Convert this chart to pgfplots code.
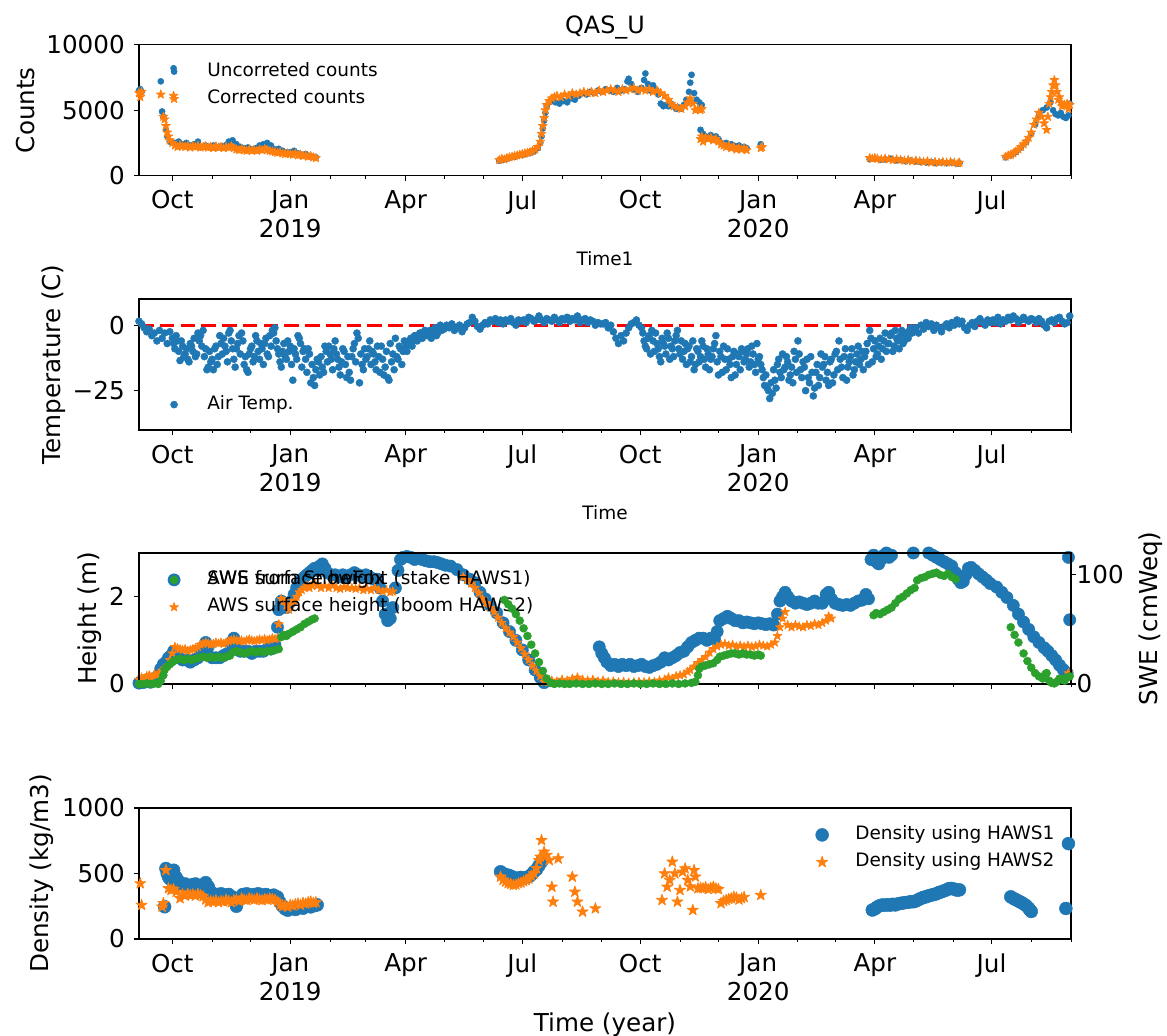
\documentclass[border=0pt]{standalone}
\usepackage{fontspec}
\setmainfont{DejaVu Sans}
\usepackage{pgfplots}
\pgfplotsset{compat=1.18}
\definecolor{tblue}{HTML}{1F77B4}
\definecolor{torange}{HTML}{FF7F0E}
\definecolor{tgreen}{HTML}{2CA02C}
\pgfdeclareplotmark{fstar}{%
  \pgfpathmoveto{\pgfqpointpolar{90}{\pgfplotmarksize}}%
  \pgfpathlineto{\pgfqpointpolar{126}{0.382\pgfplotmarksize}}%
  \pgfpathlineto{\pgfqpointpolar{162}{\pgfplotmarksize}}%
  \pgfpathlineto{\pgfqpointpolar{198}{0.382\pgfplotmarksize}}%
  \pgfpathlineto{\pgfqpointpolar{234}{\pgfplotmarksize}}%
  \pgfpathlineto{\pgfqpointpolar{270}{0.382\pgfplotmarksize}}%
  \pgfpathlineto{\pgfqpointpolar{306}{\pgfplotmarksize}}%
  \pgfpathlineto{\pgfqpointpolar{342}{0.382\pgfplotmarksize}}%
  \pgfpathlineto{\pgfqpointpolar{18}{\pgfplotmarksize}}%
  \pgfpathlineto{\pgfqpointpolar{54}{0.382\pgfplotmarksize}}%
  \pgfpathclose
  \pgfusepathqfillstroke
}
\pgfplotsset{
  mylegimg/.style={legend image code/.code={\path[draw=none,fill=none] (0pt,-1pt) rectangle (24pt,1pt); \draw[##1, only marks] plot coordinates {(12pt,0pt)};}},
  mpl/.style={
    scale only axis, width=605.8pt, height=85.15pt, anchor=south west,
    xmin=4, xmax=731, clip=true, scaled y ticks=false,
    xtick={30,122,212,303,395,487,578,669},
    minor xtick={61,91,153,181,242,273,334,365,426,456,518,547,608,639,700,731},
    xticklabels={Oct,{Jan\\2019},Apr,Jul,Oct,{Jan\\2020},Apr,Jul},
    tick align=outside, xtick pos=bottom, ytick pos=left,
    major tick length=3.5pt, minor tick length=2pt,
    tick style={black, line width=0.8pt},
    minor tick style={black, line width=0.6pt},
    axis line style={line width=0.8pt},
    xticklabel style={font=\fontsize{16}{19}\selectfont, align=center, anchor=north, inner sep=0pt, yshift=-5.9pt},
    yticklabel style={font=\fontsize{16}{19}\selectfont, anchor=east, inner sep=0pt, xshift=-5.6pt},
    every axis y label/.style={font=\fontsize{16}{19}\selectfont, rotate=90, anchor=base},
    every axis x label/.style={at={(axis description cs:0.5,0)}, anchor=base},
    every axis title/.style={at={(axis description cs:0.5,1)}, anchor=base, yshift=7.4pt, font=\fontsize{15.5}{18}\selectfont},
    legend cell align=left,
    legend style={draw=none, fill=none, inner sep=0pt, outer sep=0pt,
      font=\fontsize{12}{14}\selectfont, row sep=5.7pt, column sep=9.6pt,
      nodes={inner sep=0pt, text height=9.1pt, text depth=2.9pt}},
  },
  bdot/.style={only marks, mark=*, draw=tblue, fill=tblue, mark options={line width=0.3pt}, mylegimg},
  ostar/.style={only marks, mark=fstar, draw=torange, fill=torange, mark options={line width=0.5pt, line join=round}, mylegimg},
  gdot/.style={only marks, mark=*, draw=tgreen, fill=tgreen, mark options={line width=0.3pt}, mylegimg},
}
\begin{document}
\begin{tikzpicture}
\useasboundingbox (0pt,0pt) rectangle (758.55pt,673.4pt);
% ---------------- Panel 1 ----------------
\begin{axis}[mpl, at={(90.35pt,559.2pt)},
  ymin=0, ymax=10000, ytick={0,5000,10000}, yticklabels={0,5000,10000},
  ylabel={Counts}, ylabel style={at={(axis description cs:-0.1122,0.5)}},
  xlabel={Time1}, xlabel style={font=\fontsize{12}{14}\selectfont, yshift=-58.3pt},
  title={QAS\_U},
  legend style={at={(axis description cs:0,1)}, anchor=north west, xshift=10.8pt, yshift=-11.5pt}]
\addplot[bdot, mark size=2pt] coordinates {
(4,6500)(5,6600)(6,6400)(21,7200)(22,4900)(23,4500)(25,3500)(26,3000)(28,2600)(31,8200)
(32,2500)(35,2600)(38,2400)(41,2500)(44,2300)(47,2400)(50,2600)(53,2200)(56,2300)(59,2200)(62,2300)(65,2150)(68,2250)(71,2300)(74,2600)(77,2700)(80,2400)(83,2200)(86,2100)(89,2150)(92,2000)(95,2100)(98,2300)(101,2400)(104,2500)(107,2300)(110,2000)(113,2050)(116,1900)(119,1750)(122,1800)(125,1900)(128,1700)(131,1600)(134,1650)(137,1500)(140,1450)(142,1400)
(285,1150)(288,1200)(291,1300)(294,1400)(297,1450)(300,1550)(303,1600)(306,1650)(309,1750)(312,1850)(315,2100)(317,2500)(318,3000)(319,3600)(320,4200)(321,4800)(322,5300)(324,5600)(326,5700)(329,5600)(332,5500)(335,5700)(338,5600)(341,5900)(344,5800)(347,6100)(350,6300)(353,6200)(356,6400)(359,6300)(362,6500)(365,6400)(368,6600)(371,6500)(374,6400)(377,6700)(380,6500)(383,6600)(385,7200)(386,7400)(388,7000)(390,6600)(393,6400)(396,6700)(398,7300)(399,7800)(401,7000)(403,6500)(405,6900)(407,6600)(409,6200)(411,5500)(413,5300)(415,5400)(417,5300)(419,5500)(421,5300)(423,5100)(425,5200)(427,5100)(429,5400)(431,5800)(433,6400)(434,7100)(435,7700)(437,6300)(439,5800)(441,5600)(443,5400)
(442,3500)(444,3200)(446,3000)(448,2900)(450,3100)(452,2900)(454,3000)(456,2800)(458,2500)(460,2400)(462,2500)(464,2300)(466,2400)(468,2300)(470,2200)(472,2300)(474,2100)(476,2200)(478,2100)(489,2400)
(574,1250)(578,1300)(582,1200)(586,1250)(590,1300)(594,1150)(598,1200)(602,1100)(606,1150)(610,1100)(614,1050)(618,1000)(622,1050)(626,950)(630,1000)(634,950)(638,1000)(642,900)(644,950)
(680,1400)(684,1550)(688,1800)(692,2150)(696,2550)(700,3200)(703,3900)(706,4600)(709,5000)(712,5200)(715,5600)(717,5000)(719,4700)(721,4600)(723,4800)(725,4500)(727,4400)(729,4600)(730,5500)
};
\addlegendentry{Uncorreted counts}
\addplot[ostar, mark size=3pt] coordinates {
(4,6300)(5,6000)(6,6400)(21,6200)(23,4500)(24,4300)(25,3800)(26,3300)(27,3000)(28,2700)(30,2500)(31,6100)
(32,2300)(34,2200)(36,2350)(38,2250)(40,2200)(42,2300)(44,2150)(46,2250)(48,2200)(50,2300)(52,2150)(54,2200)(56,2250)(58,2150)(60,2200)(62,2100)(64,2250)(66,2150)(68,2200)(70,2100)(72,2200)(74,2150)(76,2250)(78,2100)(80,2000)(82,1950)(84,2050)(86,1950)(88,1900)(90,2000)(92,1900)(94,1950)(96,1900)(98,2000)(100,1950)(102,2050)(104,1950)(106,1900)(108,1850)(110,1800)(112,1750)(114,1800)(116,1700)(118,1650)(120,1700)(122,1650)(124,1600)(126,1700)(128,1550)(130,1600)(132,1500)(134,1550)(136,1450)(138,1500)(140,1400)(142,1350)
(285,1200)(287,1300)(289,1250)(291,1350)(293,1400)(295,1450)(297,1500)(299,1550)(301,1600)(303,1650)(305,1700)(307,1750)(309,1800)(311,1900)(313,2000)(315,2200)(317,2600)(318,3200)(319,3800)(320,4400)(321,5000)(322,5400)(324,5700)(326,5900)(328,6000)(330,6100)(333,6000)(336,6200)(339,6100)(342,6300)(345,6200)(348,6300)(351,6400)(354,6300)(357,6400)(360,6300)(363,6500)(366,6400)(369,6500)(372,6600)(375,6500)(378,6400)(381,6600)(384,6500)(387,6600)(390,6700)(393,6500)(396,6600)(399,6500)(402,6600)(405,6400)(408,6500)(411,6300)(414,6100)(417,5800)(419,5500)(421,5300)(424,5200)(427,5100)(430,5300)(432,5600)(434,5900)(436,5500)(438,5000)(440,5100)(442,5000)(443,5100)
(442,2800)(443,3000)(444,2600)(446,2900)(448,2800)(450,2900)(452,2700)(454,2800)(456,2600)(458,2400)(460,2300)(462,2200)(464,2300)(466,2100)(468,2200)(470,2000)(472,2100)(474,2000)(476,2100)(478,1950)(489,2100)(490,2200)
(574,1350)(576,1300)(578,1350)(580,1300)(583,1250)(586,1300)(589,1250)(592,1200)(595,1250)(598,1200)(601,1150)(604,1200)(607,1100)(610,1150)(613,1100)(616,1050)(619,1100)(622,1000)(625,1050)(628,1000)(631,1050)(634,1000)(637,1050)(640,1000)(643,950)(644,1000)
(680,1450)(682,1550)(684,1600)(686,1700)(688,1850)(690,2000)(692,2200)(694,2400)(696,2600)(698,2900)(700,3300)(702,3900)(704,4300)(706,4800)(708,4500)(710,4000)(712,3500)(713,4500)(714,5500)(715,6000)(716,6400)(717,6900)(718,7300)(719,6900)(720,6400)(721,5800)(722,6000)(723,5600)(724,5300)(726,5400)(728,5500)(729,5100)(730,5400)
};
\addlegendentry{Corrected counts}
\end{axis}
% ---------------- Panel 2 ----------------
\begin{axis}[mpl, at={(90.35pt,393.9pt)},
  ymin=-40, ymax=10, ytick={-25,0}, yticklabels={−25,0},
  ylabel={Temperature (C)}, ylabel style={at={(axis description cs:-0.0837,0.5)}},
  xlabel={Time}, xlabel style={font=\fontsize{12}{14}\selectfont, yshift=-58.5pt},
  legend style={at={(axis description cs:0,0)}, anchor=south west, xshift=10.8pt, yshift=10.5pt}]
\addplot[bdot, mark size=2.3pt] coordinates {
(4,1.5)(6,0.5)(8,-1)(10,-2.5)(12,-1.5)(14,-4)(16,-3)(18,-6)(20,-2)(22,-5)(24,-3)(26,-7)(28,-2.5)
(30,-5)(32,-9)(34,-6)(36,-13.5)(38,-8)(40,-11)(42,-13)(44,-7)(46,-10)(48,-12)(50,-3)(52,-4)(54,-2)(56,-9)(58,-16)(60,-14)
(62,-17)(64,-8)(66,-12)(68,-7)(70,-5)(72,-10)(74,-3)(76,-6)(78,-13)(80,-9)(82,-4)(84,-3)(86,-15)(88,-17)(90,-11)
(92,-8)(94,-12)(96,-6)(98,-13)(100,-9)(102,-7)(104,-11)(106,-4)(108,-2)(110,-1)(112,-9)(114,-14)(116,-10)(118,-12)(120,-6)
(122,-8)(124,-21)(126,-11)(128,-4)(130,-7)(132,-10)(134,-13)(136,-9)(138,-22)(140,-20)(142,-17)(144,-14)(146,-12)(148,-18)(150,-10)(152,-8)
(154,-13)(156,-9)(158,-11)(160,-16)(162,-14)(164,-10)(166,-20)(168,-18)(170,-12)(172,-7)(174,-3)(176,-22)(178,-15)(180,-9)
(182,-12)(184,-6)(186,-10)(188,-14)(190,-8)(192,-18)(194,-13)(196,-16)(198,-20)(200,-7)(202,-11)(204,-5)(206,-13)(208,-9)(210,-10)
(212,-8)(214,-7)(216,-5)(218,-6)(220,-4)(222,-5)(224,-3)(226,-4)(228,-2.5)(230,-3)(232,-5)(234,-2)(236,-4)(238,-1)(240,-2)
(242,-1.5)(244,0)(246,-1)(248,0.5)(250,-2)(252,-1)(254,0)(256,-2.5)(258,-1)(260,0.5)(262,1)(264,3)(266,1.5)(268,-0.5)(270,-1.5)(272,0)
(274,1)(276,0.5)(278,2)(280,1.5)(282,2.5)(284,1)(286,2)(288,0.5)(290,2)(292,1.5)(294,2.5)(296,1)(298,0)(300,2)(302,1.5)
(304,2)(306,1)(308,3)(310,2.5)(312,1.5)(314,2)(316,3.5)(318,2)(320,1)(322,2.5)(324,2)(326,1.5)(328,3)(330,2)(332,1)(334,2.5)
(336,2)(338,3)(340,1.5)(342,2.5)(344,2)(346,3.5)(348,1)(350,2)(352,2.5)(354,1)(356,2)(358,1.5)(360,0)(362,1)(364,0.5)
(366,0.5)(368,1)(370,-1)(372,0)(374,-2.5)(376,-5)(378,-7)(380,-4)(382,-6)(384,-3)(386,-1)(388,0.5)(390,1)(392,2)(394,0)
(396,-1)(398,-6)(400,-9)(402,-4)(404,-2)(406,-10)(408,-7)(410,-12)(412,-5)(414,-8)(416,-3)(418,-13)(420,-9)(422,-6)(424,-2)
(426,-11)(428,-13)(430,-7)(432,-9)(434,-14)(436,-6)(438,-15)(440,-10)(442,-12)(444,-8)(446,-16)(448,-11)(450,-13)(452,-9)(454,-4)
(456,-19)(458,-12)(460,-8)(462,-17)(464,-13)(466,-20)(468,-10)(470,-15)(472,-12)(474,-9)(476,-14)(478,-11)(480,-16)(482,-8)(484,-15)(486,-7)
(488,-12)(490,-17)(492,-23)(494,-24)(496,-28)(498,-26)(500,-21)(502,-15)(504,-18)(506,-11)(508,-16)(510,-14)(512,-19)(514,-22)(516,-13)
(518,-6)(520,-17)(522,-14)(524,-25)(526,-20)(528,-12)(530,-27)(532,-18)(534,-23)(536,-11)(538,-15)(540,-21)(542,-23)(544,-13)(546,-19)
(548,-10)(550,-6)(552,-16)(554,-12)(556,-21)(558,-14)(560,-9)(562,-17)(564,-11)(566,-15)(568,-10)(570,-12)(572,-7)(574,-2)(576,-14)
(578,-6)(580,-11)(582,-5)(584,-9)(586,-3)(588,-7)(590,-4)(592,-10)(594,-2)(596,-6)(598,-4)(600,-7)(602,-3)(604,-5)(606,-1)
(608,-2)(610,-1)(612,-3)(614,0)(616,-1.5)(618,1)(620,-0.5)(622,0.5)(624,-2)(626,0)(628,-1)(630,-2.5)(632,-0.5)(634,0.5)(636,-1)(638,1)
(640,0)(642,2)(644,0.5)(646,1.5)(648,-1)(650,-2)(652,0)(654,1)(656,-0.5)(658,1.5)(660,2.5)(662,1)(664,0)(666,2)(668,1)
(670,2)(672,1)(674,3)(676,0.5)(678,2)(680,1.5)(682,3)(684,2)(686,3.5)(688,2.5)(690,1)(692,2)(694,3)(696,2)(698,1.5)(700,2.5)
(702,2)(704,1)(706,2.5)(708,1.5)(710,0)(712,-1)(714,1.5)(716,2)(718,1)(720,2.5)(722,3)(724,1.5)(726,0.5)(728,1)(730,3.5)
(31,-7)(33,-4)(35,-10)(37,-6)(39,-12)(41,-9)(43,-14)(45,-8)(47,-5)(49,-11)(51,-6)(53,-8)(55,-12)(57,-17)(59,-10)(61,-13)
(63,-9)(65,-15)(67,-4)(69,-11)(71,-8)(73,-14)(75,-2)(77,-9)(79,-16)(81,-7)(83,-11)(85,-6)(87,-12)(89,-18)(91,-9)
(93,-14)(95,-4)(97,-10)(99,-7)(101,-15)(103,-5)(105,-12)(107,-8)(109,-3)(111,-6)(113,-11)(115,-16)(117,-7)(119,-13)(121,-10)
(123,-15)(125,-9)(127,-13)(129,-5)(131,-16)(133,-9)(135,-18)(137,-11)(139,-15)(141,-23)(143,-13)(145,-19)(147,-16)(149,-8)(151,-14)
(153,-11)(155,-17)(157,-6)(159,-13)(161,-19)(163,-9)(165,-15)(167,-12)(169,-21)(171,-9)(173,-14)(175,-5)(177,-11)(179,-17)(181,-13)
(183,-9)(185,-15)(187,-11)(189,-17)(191,-12)(193,-8)(195,-19)(197,-10)(199,-21)(201,-14)(203,-17)(205,-12)(207,-8)(209,-15)(211,-6)
(213,-10)(215,-6)(217,-8)(219,-4)(221,-6)(223,-3)(225,-5)(227,-2)(229,-4)(231,-2)(233,-3)(235,-1)(237,-3)(239,0)
(397,-3)(399,-8)(401,-5)(403,-11)(405,-6)(407,-3)(409,-9)(411,-14)(413,-7)(415,-11)(417,-5)(419,-8)(421,-12)(423,-4)(425,-9)
(427,-6)(429,-10)(431,-15)(433,-8)(435,-12)(437,-17)(439,-9)(441,-14)(443,-6)(445,-13)(447,-9)(449,-17)(451,-12)(453,-7)(455,-14)
(457,-10)(459,-18)(461,-13)(463,-9)(465,-15)(467,-12)(469,-19)(471,-11)(473,-17)(475,-10)(477,-13)(479,-9)(481,-14)(483,-11)(485,-18)(487,-13)
(489,-15)(491,-20)(493,-19)(495,-25)(497,-22)(499,-17)(501,-24)(503,-13)(505,-20)(507,-17)(509,-12)(511,-21)(513,-16)(515,-10)(517,-18)
(519,-11)(521,-20)(523,-16)(525,-13)(527,-22)(529,-18)(531,-24)(533,-15)(535,-20)(537,-16)(539,-12)(541,-18)(543,-14)(545,-22)(547,-11)
(549,-17)(551,-13)(553,-20)(555,-9)(557,-16)(559,-12)(561,-19)(563,-14)(565,-8)(567,-13)(569,-17)(571,-10)(573,-15)(575,-5)(577,-9)
(579,-12)(581,-8)(583,-13)(585,-6)(587,-10)(589,-7)(591,-3)(593,-8)(595,-5)(597,-9)(599,-2)(601,-6)(603,-4)(605,-2)(607,-3)(609,-1)
};
\addlegendentry{Air Temp.}
\addplot[red, line width=2pt, dash pattern=on 9.5pt off 4pt, forget plot] coordinates {(4,0) (731,0)};
\end{axis}
% ---------------- Panel 3 ----------------
\begin{axis}[mpl, at={(90.35pt,228.8pt)},
  ymin=0, ymax=3, ytick={0,2}, yticklabels={0,2}, xticklabels={},
  ylabel={Height (m)}, ylabel style={at={(axis description cs:-0.0456,0.5)}},
  legend style={at={(axis description cs:0,1)}, anchor=north west, xshift=10.8pt, yshift=-11.5pt}]
\addplot[bdot, mark size=4pt] coordinates {
(4,0.02)(7,0.03)(10,0.05)(13,0.04)(16,0.08)(19,0.2)(21,0.35)(23,0.45)(25,0.5)(27,0.6)(29,0.65)(31,0.75)(33,0.7)(35,0.6)(38,0.55)(41,0.55)(44,0.5)(47,0.55)(50,0.6)(53,0.75)(56,0.95)(58,0.85)(61,0.6)(64,0.6)(67,0.6)(70,0.65)(73,0.7)(76,0.95)(78,1.05)(80,0.8)(83,0.75)(86,0.75)(89,0.75)(92,0.7)(95,0.75)(98,0.75)(101,0.75)(104,0.8)(107,0.8)(110,0.9)(112,1.3)(113,1.7)(115,1.9)(117,1.8)(119,1.75)(121,1.85)(123,1.9)(125,2.05)(127,2.2)(129,2.3)(131,2.4)(133,2.45)(135,2.5)(137,2.55)(139,2.6)(141,2.65)(143,2.6)(145,2.7)(147,2.75)(149,2.65)(151,2.55)(154,2.5)(157,2.5)(160,2.45)(163,2.5)(166,2.45)(169,2.5)(172,2.55)(175,2.5)(178,2.45)(181,2.5)(184,2.45)(187,2.4)(190,2.4)(192,2.2)(194,1.9)(196,1.6)(198,1.45)(200,1.5)(202,1.75)(204,2.2)(206,2.6)(208,2.85)(210,2.9)(213,2.92)(216,2.9)(219,2.85)(222,2.88)(225,2.85)(228,2.82)(231,2.8)(234,2.8)(237,2.78)(240,2.75)(243,2.72)(247,2.7)(252,2.62)(257,2.5)(262,2.4)(266,2.32)(270,2.1)(274,1.95)(278,1.8)(283,1.63)(288,1.4)(293,1.2)(298,1.0)(303,0.78)(308,0.55)(313,0.32)(317,0.15)(320,0.03)
(363,0.85)(365,0.7)(367,0.6)(369,0.5)(372,0.42)(375,0.45)(378,0.4)(381,0.45)(384,0.42)(387,0.45)(390,0.4)(393,0.42)(396,0.45)(399,0.4)(402,0.38)(405,0.42)(408,0.45)(411,0.5)(414,0.6)(417,0.55)(420,0.6)(423,0.65)(426,0.72)(429,0.75)(432,0.85)(435,0.95)(438,1.0)(441,1.05)(444,1.05)(447,1.0)(450,1.05)(453,1.02)(455,1.2)(457,1.45)(460,1.5)(463,1.55)(466,1.5)(469,1.45)(472,1.45)(475,1.4)(478,1.42)(481,1.4)(484,1.38)(487,1.4)(490,1.38)(493,1.36)(496,1.38)(499,1.35)(502,1.6)(504,1.9)(506,2.0)(508,2.1)(510,2.0)(513,1.9)(516,1.85)(519,1.88)(522,1.85)(525,1.82)(528,1.85)(531,1.9)(534,1.85)(537,1.85)(540,2.05)(542,2.1)(544,1.95)(547,1.85)(550,1.82)(553,1.8)(556,1.82)(559,1.8)(562,1.85)(565,1.9)(568,1.92)(571,2.05)(573,1.95)(575,2.85)(577,2.95)(579,2.8)(581,2.75)(583,2.85)(585,2.95)(587,3.0)(589,2.9)(591,2.95)(593,3.05)(596,3.05)(599,3.05)(602,3.05)(605,3.02)(608,3.0)(611,3.02)(614,3.05)(617,3.05)(620,3.0)(623,2.95)(626,2.9)(629,2.85)(632,2.8)(635,2.75)(638,2.7)(641,2.55)(643,2.4)(645,2.32)(647,2.35)(649,2.5)(651,2.65)(653,2.67)(656,2.6)(659,2.52)(662,2.45)(665,2.38)(668,2.3)(673,2.22)(677,2.1)(681,1.98)(686,1.8)(690,1.6)(694,1.42)(698,1.25)(702,1.08)(706,0.95)(710,0.83)(713,0.75)(716,0.65)(719,0.55)(722,0.43)(725,0.33)(728,0.25)(729,2.9)(730,1.47)
};
\addlegendentry{AWS surface height (stake HAWS1)}
\addplot[ostar, mark size=3pt] coordinates {
(4,0.1)(6,0.15)(8,0.12)(10,0.18)(12,0.2)(14,0.15)(16,0.22)(18,0.2)(20,0.25)(22,0.3)(24,0.35)(26,0.4)(28,0.55)(30,0.7)(32,0.85)(34,0.82)(36,0.8)(38,0.78)(40,0.8)(42,0.76)(44,0.78)(46,0.8)(48,0.82)(50,0.85)(52,0.9)(54,0.92)(56,0.95)(58,0.93)(60,0.9)(62,0.92)(64,0.95)(66,0.93)(68,0.95)(70,0.92)(72,0.95)(74,0.98)(76,1.0)(78,1.02)(80,1.0)(82,0.98)(84,1.0)(86,0.97)(88,1.0)(90,1.02)(92,1.0)(94,0.98)(96,1.0)(98,1.02)(100,1.0)(102,1.03)(104,1.0)(106,1.02)(108,1.05)(110,1.03)(112,1.05)(113,1.37)(115,1.95)(117,1.9)(119,1.8)(121,1.7)(123,1.85)(125,1.9)(127,2.0)(129,2.1)(131,2.15)(133,2.2)(135,2.25)(137,2.2)(139,2.25)(141,2.3)(143,2.25)(146,2.2)(149,2.25)(152,2.2)(155,2.25)(158,2.2)(161,2.18)(164,2.22)(167,2.2)(170,2.2)(173,2.18)(176,2.2)(179,2.15)(182,2.18)(185,2.15)(188,2.2)(191,2.15)(194,2.12)(197,2.15)(200,2.1)(202,2.12)
(257,2.45)(260,2.38)(263,2.3)(266,2.2)(269,2.08)(272,1.95)(275,1.85)(278,1.75)(281,1.65)(284,1.52)(287,1.4)(290,1.28)(293,1.18)(296,1.08)(299,0.95)(302,0.82)(305,0.68)(308,0.55)(311,0.42)(314,0.3)(317,0.18)(320,0.05)(323,0.05)(326,0.08)(330,0.06)(334,0.1)(338,0.08)(342,0.12)(346,0.15)(350,0.1)(354,0.08)(358,0.1)(362,0.06)(366,0.08)(370,0.05)(374,0.06)(378,0.04)(382,0.05)(386,0.03)(390,0.04)(394,0.05)(398,0.04)(402,0.06)(406,0.05)(410,0.08)(414,0.1)(417,0.15)(420,0.12)(423,0.18)(426,0.2)(429,0.22)(432,0.28)(434,0.32)(437,0.4)(440,0.48)(443,0.55)(446,0.62)(449,0.72)(452,0.8)(455,0.86)(458,0.9)(461,0.92)(464,0.88)(467,0.9)(470,0.85)(473,0.88)(476,0.85)(479,0.88)(482,0.85)(485,0.87)(488,0.9)(491,0.88)(494,0.86)(497,0.9)(500,0.95)(502,1.1)(504,1.3)(506,1.5)(508,1.65)(510,1.35)(513,1.3)(516,1.35)(519,1.32)(522,1.3)(525,1.35)(528,1.33)(531,1.38)(534,1.35)(537,1.4)(540,1.45)(542,1.55)(544,1.5)(727,0.15)(729,0.25)
};
\addlegendentry{AWS surface height (boom HAWS2)}
\end{axis}
\begin{axis}[mpl, at={(90.35pt,228.8pt)},
  ymin=0, ymax=120, ytick={0,100}, yticklabels={0,100}, xtick=\empty, minor xtick=\empty,
  ytick pos=right, yticklabel pos=right,
  yticklabel style={anchor=west, xshift=5.6pt},
  ylabel={SWE (cmWeq)}, ylabel style={at={(axis description cs:1.0933,0.5)}},
  legend style={at={(axis description cs:0,1)}, anchor=north west, xshift=10.8pt, yshift=-11.5pt}]
\addplot[gdot, mark size=2.6pt] coordinates {
(4,0)(7,0)(10,0.5)(13,0)(16,0.5)(19,0)(21,3)(23,8)(24,13)(26,16)(28,18)(30,20)(33,22)(36,23)(39,22)(42,23)(45,22)(48,23)(51,24)(54,25)(57,24)(60,25)(63,24)(66,25)(69,24)(72,25)(75,26)(77,29)(80,30)(83,29)(86,28)(89,29)(92,30)(95,29)(98,30)(101,29)(104,30)(107,30)(110,31)(113,32)(115,43)(117,45)(119,44)(121,46)(124,48)(127,50)(130,52)(133,55)(136,57)(139,59)(141,60)
(289,77)(292,73)(295,69)(298,64)(301,58)(304,51)(307,44)(310,36)(313,28)(316,20)(319,12)(322,5)(325,1)(328,0)(332,0.5)(336,0)(340,0)(345,0.5)(350,0)(355,0)(360,0.5)(365,0)(370,0)(375,0.5)(380,0)(385,0)(390,0.5)(395,0)(400,0)(405,0.5)(410,0)(415,0)(420,0.5)(425,0)(430,0.5)(435,1)(438,2)(440,8)(441,14)(443,16)(446,17)(449,18)(452,19)(455,22)(457,25)(460,26)(463,27)(466,28)(469,28)(472,27)(475,28)(478,27)(481,27)(484,26)(487,27)(489,26)
(577,63)(579,65)(582,64)(585,66)(588,68)(591,70)(594,74)(597,78)(600,80)(603,83)(606,86)(609,88)(611,95)(614,97)(617,98)(620,100)(623,101)(626,102)(629,100)(632,99)(635,101)(638,98)(641,96)
(684,52)(687,45)(690,38)(694,28)(697,21)(700,15)(703,10)(706,7)(709,5)(711,9)(712,10)(714,3)(716,1)(718,0.5)(720,2)(722,5)(724,4)(726,3)(728,6)(730,7)
};
\addlegendentry{SWE from SnowFox}
\end{axis}
% ---------------- Panel 4 ----------------
\begin{axis}[mpl, at={(90.35pt,63.05pt)},
  ymin=0, ymax=1000, ytick={0,500,1000}, yticklabels={0,500,1000},
  ylabel={Density (kg/m3)}, ylabel style={at={(axis description cs:-0.0966,0.5)}},
  xlabel={Time (year)}, xlabel style={font=\fontsize{16}{19}\selectfont, yshift=-60pt},
  legend style={at={(axis description cs:1,1)}, anchor=north east, xshift=-10.8pt, yshift=-11.5pt}]
\addplot[bdot, mark size=4.2pt] coordinates {
(24,246)(25,538)(26,500)(27,475)(28,460)(30,449)(31,525)(33,470)(35,440)(36,424)(38,415)(40,420)(42,410)(44,405)(46,415)(48,420)(50,410)(52,400)(54,405)(56,430)(58,400)(60,360)(62,345)(65,340)(68,345)(71,335)(74,340)(77,320)(80,250)(82,300)(85,340)(88,345)(91,335)(94,340)(97,345)(100,335)(103,340)(106,330)(109,335)(112,320)(114,280)(116,250)(118,230)(120,220)(123,235)(126,225)(129,240)(132,235)(135,250)(138,245)(141,255)(143,260)
(286,513)(288,500)(290,490)(292,487)(294,480)(296,470)(298,462)(300,465)(302,470)(304,462)(306,470)(308,475)(310,490)(312,513)(314,530)(316,560)(318,590)
(576,221)(578,230)(580,245)(582,255)(584,260)(586,258)(588,262)(590,258)(592,265)(594,260)(596,268)(598,272)(600,275)(602,278)(604,280)(606,285)(608,284)(610,290)(612,300)(614,310)(616,318)(618,322)(620,330)(622,335)(624,340)(626,345)(628,355)(630,360)(632,368)(634,375)(636,385)(638,386)(640,380)(642,373)(644,375)
(684,322)(686,310)(688,300)(690,290)(692,280)(694,268)(696,255)(698,235)(699,220)(700,210)(727,233)(729,728)
};
\addlegendentry{Density using HAWS1}
\addplot[ostar, mark size=3.8pt] coordinates {
(5,424)(6,259)(22,246)(23,272)(25,525)(27,386)(29,373)(31,380)(33,360)(36,310)(38,340)(40,330)(42,345)(44,335)(46,340)(48,330)(50,345)(52,335)(54,325)(56,300)(58,280)(60,290)(62,285)(64,295)(66,280)(68,290)(70,285)(72,300)(74,290)(76,280)(78,295)(80,300)(82,290)(84,310)(86,300)(88,295)(90,310)(92,305)(94,300)(96,310)(98,300)(100,295)(102,305)(104,300)(106,310)(108,305)(110,300)(112,285)(114,260)(116,250)(118,255)(120,245)(122,260)(124,255)(126,265)(128,270)(130,260)(132,275)(134,270)(136,280)(138,285)(140,275)(142,280)
(286,475)(288,450)(290,437)(292,425)(294,420)(296,411)(298,415)(300,425)(302,430)(304,440)(306,449)(308,460)(310,480)(312,500)(314,540)(316,600)(317,627)(318,754)(320,665)(322,640)(324,601)(326,398)(327,284)(331,614)(342,475)(344,360)(346,284)(350,208)(360,233)
(412,297)(414,500)(416,398)(418,449)(420,589)(422,500)(424,284)(426,373)(428,513)(430,538)(432,450)(434,400)(436,221)(437,525)(438,475)(440,386)(442,390)(444,386)(446,395)(448,380)(450,390)(452,398)(454,386)(456,380)(458,272)(460,290)(462,297)(464,305)(466,310)(468,322)(470,315)(472,300)(474,310)(476,320)(489,335)
};
\addlegendentry{Density using HAWS2}
\end{axis}
\end{tikzpicture}
\end{document}
